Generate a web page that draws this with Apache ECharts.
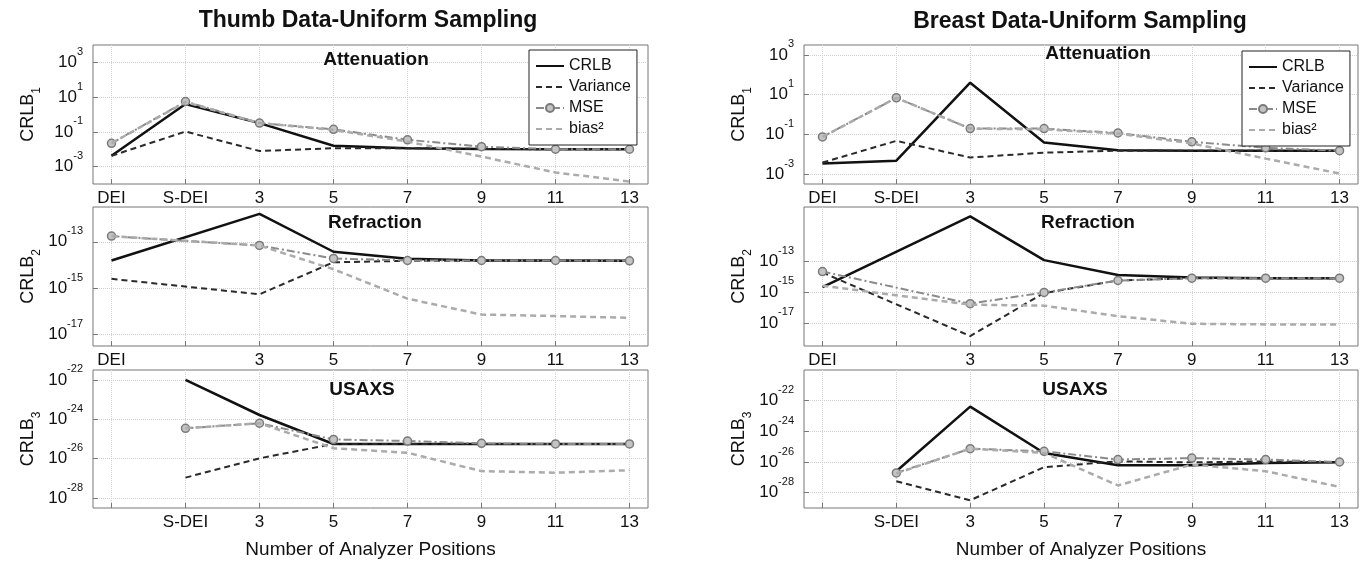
<!DOCTYPE html>
<html>
<head>
<meta charset="utf-8">
<script src="https://cdn.jsdelivr.net/npm/echarts@6/dist/echarts.min.js"></script>
<style>
html, body { margin: 0; padding: 0; background: #fff; }
#chart { width: 1361px; height: 566px; }
</style>
</head>
<body>
<div id="chart"></div>
<script>
// categories on the x axis (placed at positions 1..8)
var xLabels = ['DEI', 'S-DEI', '3', '5', '7', '9', '11', '13'];
var xPos = [1, 2, 3, 4, 5, 6, 7, 8];

// Thumb - Attenuation
var thumbAttCrlb = [4.2e-3, 4.0, 0.32, 1.6e-2, 1.15e-2, 1.05e-2, 1.0e-2, 1.0e-2];
var thumbAttVar  = [4.2e-3, 0.105, 7.9e-3, 1.15e-2, 1.15e-2, 1.05e-2, 1.0e-2, 1.0e-2];
var thumbAttMse  = [2.2e-2, 5.6, 0.32, 0.14, 3.5e-2, 1.4e-2, 1.0e-2, 1.0e-2];
var thumbAttBias = [2.2e-2, 5.2, 0.32, 0.13, 2.75e-2, 3.8e-3, 4.6e-4, 1.4e-4];

// Thumb - Refraction (no S-DEI)
var thumbRefCrlb = [1.55e-14, null, 1.6e-12, 3.7e-14, 1.85e-14, 1.55e-14, 1.55e-14, 1.5e-14];
var thumbRefVar  = [2.5e-15, null, 5.4e-16, 1.3e-14, 1.5e-14, 1.5e-14, 1.5e-14, 1.5e-14];
var thumbRefMse  = [1.75e-13, null, 6.9e-14, 1.9e-14, 1.55e-14, 1.55e-14, 1.55e-14, 1.5e-14];
var thumbRefBias = [1.75e-13, null, 6.9e-14, 6.5e-15, 3.5e-16, 7.2e-17, 6.2e-17, 5.2e-17];

// Thumb - USAXS (no DEI)
var thumbUsaCrlb = [null, 1.0e-22, 1.65e-24, 5.6e-26, 5.6e-26, 5.6e-26, 5.6e-26, 5.6e-26];
var thumbUsaVar  = [null, 1.1e-27, 1.05e-26, 5.6e-26, 5.6e-26, 5.6e-26, 5.6e-26, 5.6e-26];
var thumbUsaMse  = [null, 3.5e-25, 6.3e-25, 9.5e-26, 7.9e-26, 6.0e-26, 5.6e-26, 5.6e-26];
var thumbUsaBias = [null, 3.5e-25, 6.3e-25, 3.4e-26, 2.0e-26, 2.35e-27, 1.95e-27, 2.6e-27];

// Breast - Attenuation
var breastAttCrlb = [3.4e-3, 4.7e-3, 40, 3.9e-2, 1.6e-2, 1.5e-2, 1.5e-2, 1.5e-2];
var breastAttVar  = [3.8e-3, 4.7e-2, 6.8e-3, 1.2e-2, 1.5e-2, 1.5e-2, 1.5e-2, 1.5e-2];
var breastAttMse  = [7.4e-2, 6.9, 0.195, 0.195, 0.117, 4.2e-2, 2.1e-2, 1.5e-2];
var breastAttBias = [7.4e-2, 6.9, 0.195, 0.178, 0.11, 3.5e-2, 6.0e-3, 1.07e-3];

// Breast - Refraction (no S-DEI)
var breastRefCrlb = [2.05e-15, null, 7.8e-11, 1.15e-13, 1.26e-14, 8.5e-15, 7.8e-15, 7.8e-15];
var breastRefVar  = [1.8e-14, null, 1.4e-18, 8.5e-16, 5.5e-15, 7.8e-15, 7.8e-15, 7.8e-15];
var breastRefMse  = [2.1e-14, null, 1.75e-16, 9.3e-16, 5.5e-15, 7.8e-15, 7.8e-15, 7.8e-15];
var breastRefBias = [2.5e-15, null, 1.5e-16, 1.3e-16, 2.7e-17, 8.7e-18, 7.9e-18, 7.9e-18];

// Breast - USAXS (no DEI)
var breastUsaCrlb = [null, 2.5e-27, 4.1e-23, 3.9e-26, 6.2e-27, 6.2e-27, 8.7e-27, 9.5e-27];
var breastUsaVar  = [null, 5.6e-28, 3.2e-29, 4.6e-27, 1.1e-26, 9.5e-27, 1.1e-26, 9.5e-27];
var breastUsaMse  = [null, 1.95e-27, 7.4e-26, 5.0e-26, 1.45e-26, 1.8e-26, 1.45e-26, 1.0e-26];
var breastUsaBias = [null, 1.8e-27, 7.4e-26, 3.9e-26, 2.95e-28, 6.8e-27, 2.5e-27, 2.4e-28];

// y tick labels per panel (powers of ten shown as 10^n)
var yExpAtt1 = [3, 1, -1, -3];
var yExpRef1 = [-13, -15, -17];
var yExpUsa1 = [-22, -24, -26, -28];
var yExpAtt2 = [3, 1, -1, -3];
var yExpRef2 = [-13, -15, -17];
var yExpUsa2 = [-22, -24, -26, -28];

var FONT = 'Liberation Sans, Arial, Helvetica, sans-serif';
var INK = '#111';

// layout of the six panels; yr = visible decade range
var panels = [
    {grid: {left: 93, top: 45, width: 555, height: 139}, yr: [-4, 4], yt: yExpAtt1, xl: [1, 2, 3, 4, 5, 6, 7, 8], sub: '1', last: false,
        data: [thumbAttCrlb, thumbAttVar, thumbAttMse, thumbAttBias], title: 'Attenuation', tx: 376, ty: 60},
    {grid: {left: 93, top: 207, width: 555, height: 139}, yr: [-17.5, -11.5], yt: yExpRef1, xl: [1, 3, 4, 5, 6, 7, 8], sub: '2', last: false,
        data: [thumbRefCrlb, thumbRefVar, thumbRefMse, thumbRefBias], title: 'Refraction', tx: 375, ty: 223},
    {grid: {left: 93, top: 370, width: 555, height: 138}, yr: [-28.5, -21.5], yt: yExpUsa1, xl: [2, 3, 4, 5, 6, 7, 8], sub: '3', last: true,
        data: [thumbUsaCrlb, thumbUsaVar, thumbUsaMse, thumbUsaBias], title: 'USAXS', tx: 362, ty: 390},
    {grid: {left: 804, top: 45, width: 554, height: 139}, yr: [-3.5, 3.5], yt: yExpAtt2, xl: [1, 2, 3, 4, 5, 6, 7, 8], sub: '1', last: false,
        data: [breastAttCrlb, breastAttVar, breastAttMse, breastAttBias], title: 'Attenuation', tx: 1098, ty: 54},
    {grid: {left: 804, top: 207, width: 554, height: 139}, yr: [-18.5, -9.5], yt: yExpRef2, xl: [1, 3, 4, 5, 6, 7, 8], sub: '2', last: false,
        data: [breastRefCrlb, breastRefVar, breastRefMse, breastRefBias], title: 'Refraction', tx: 1088, ty: 223},
    {grid: {left: 804, top: 370, width: 554, height: 138}, yr: [-29, -20], yt: yExpUsa2, xl: [2, 3, 4, 5, 6, 7, 8], sub: '3', last: true,
        data: [breastUsaCrlb, breastUsaVar, breastUsaMse, breastUsaBias], title: 'USAXS', tx: 1075, ty: 390}
];

var names = ['CRLB', 'Variance', 'MSE', 'bias\u00b2'];
var styles = [
    {symbol: 'none', line: {color: '#111', width: 2.5, type: 'solid'}, item: {color: '#111'}, z: 2},
    {symbol: 'none', line: {color: '#2a2a2a', width: 2, type: [6, 4]}, item: {color: '#2a2a2a'}, z: 3},
    {symbol: 'circle', size: 8, line: {color: '#8a8a8a', width: 2, type: [8, 3, 2, 3]},
        item: {color: '#c4c4c4', borderColor: '#7a7a7a', borderWidth: 1.5}, z: 4},
    {symbol: 'none', line: {color: '#ababab', width: 2.5, type: [6, 4]}, item: {color: '#ababab'}, z: 5}
];

var grids = [], xAxes = [], yAxes = [], series = [];
var titles = [
    {text: 'Thumb Data-Uniform Sampling', left: 368, top: 9, textAlign: 'center', padding: 0,
        textStyle: {fontSize: 23, fontWeight: 'bold', color: INK, fontFamily: FONT}},
    {text: 'Breast Data-Uniform Sampling', left: 1080, top: 10, textAlign: 'center', padding: 0,
        textStyle: {fontSize: 23, fontWeight: 'bold', color: INK, fontFamily: FONT}}
];

panels.forEach(function (p, gi) {
    var g = p.grid;
    g.show = true;
    g.borderColor = '#777';
    g.borderWidth = 1;
    g.backgroundColor = '#fff';
    g.outerBoundsMode = 'none';
    grids.push(g);

    xAxes.push({
        type: 'value', gridIndex: gi, min: 0.75, max: 8.25, position: 'bottom',
        axisLine: {show: false, onZero: false},
        axisTick: {show: true, inside: true, length: 5, customValues: xPos, lineStyle: {color: '#777'}},
        axisLabel: {customValues: p.xl, margin: 6, fontSize: 17, color: INK, fontFamily: FONT,
            formatter: function (v) { return xLabels[Math.round(v) - 1]; }},
        splitLine: {show: true, lineStyle: {color: '#d4d4d4', width: 1, type: 'dotted'}},
        name: p.last ? 'Number of Analyzer Positions' : '',
        nameLocation: 'middle', nameGap: 32,
        nameTextStyle: {fontSize: 19, color: INK, fontFamily: FONT}
    });

    // log axis that carries the data
    yAxes.push({
        type: 'log', logBase: 10, gridIndex: gi, position: 'left',
        min: Math.pow(10, p.yr[0]), max: Math.pow(10, p.yr[1]),
        axisLine: {show: false, onZero: false}, axisTick: {show: false},
        axisLabel: {show: false}, splitLine: {show: false}
    });
    // companion axis in decades, same span, for ticks / labels / grid
    yAxes.push({
        type: 'value', gridIndex: gi, position: 'left',
        min: p.yr[0], max: p.yr[1],
        axisLine: {show: false, onZero: false},
        axisTick: {show: true, inside: true, length: 5, customValues: p.yt, lineStyle: {color: '#777'}},
        axisLabel: {customValues: p.yt, margin: 10,
            formatter: function (v) { return '{b|10}{e|' + v + '}'; },
            rich: {
                b: {fontSize: 17, lineHeight: 32, color: INK, fontFamily: FONT},
                e: {fontSize: 11, lineHeight: 10, verticalAlign: 'top', color: INK, fontFamily: FONT}
            }},
        splitLine: {show: true, lineStyle: {color: '#cfcfcf', width: 1, type: 'dotted'}},
        name: 'CRLB{s|' + p.sub + '}', nameLocation: 'middle', nameRotate: 90, nameGap: 50,
        nameTextStyle: {
            rich: {
                s: {fontSize: 12, lineHeight: 8, verticalAlign: 'bottom', color: INK, fontFamily: FONT}
            },
            fontSize: 18, lineHeight: 30, color: INK, fontFamily: FONT
        }
    });

    p.data.forEach(function (vals, si) {
        var st = styles[si];
        var pts = [];
        vals.forEach(function (v, i) { if (v !== null) pts.push([xPos[i], v]); });
        series.push({
            name: names[si], type: 'line', xAxisIndex: gi, yAxisIndex: gi * 2,
            data: pts, symbol: st.symbol, symbolSize: st.size || 0,
            showSymbol: st.symbol !== 'none',
            lineStyle: st.line, itemStyle: st.item, z: st.z,
            emphasis: {disabled: true}, animation: false
        });
    });

    titles.push({text: p.title, left: p.tx, top: p.ty - 10, textAlign: 'center', padding: 0,
        textStyle: {fontSize: 19, fontWeight: 'bold', color: INK, fontFamily: FONT}});
});

function legendAt(left, top) {
    var noDot = {opacity: 0, color: 'rgba(0,0,0,0)', borderColor: 'rgba(0,0,0,0)', borderWidth: 0};
    return {
        data: [
            {name: 'CRLB', itemStyle: noDot},
            {name: 'Variance', itemStyle: noDot},
            {name: 'MSE'},
            {name: 'bias\u00b2', itemStyle: noDot}
        ],
        orient: 'vertical', left: left, top: top,
        backgroundColor: '#fff', borderColor: '#222', borderWidth: 1,
        padding: [8, 6, 8, 6], itemGap: 5, itemWidth: 28, itemHeight: 10,
        textStyle: {fontSize: 16, color: INK, fontFamily: FONT},
        z: 10
    };
}

var chart = echarts.init(document.getElementById('chart'));
chart.setOption({
    backgroundColor: '#fff',
    animation: false,
    title: titles,
    legend: [legendAt(529, 50), legendAt(1242, 51)],
    grid: grids,
    xAxis: xAxes,
    yAxis: yAxes,
    series: series
});
</script>
</body>
</html>
